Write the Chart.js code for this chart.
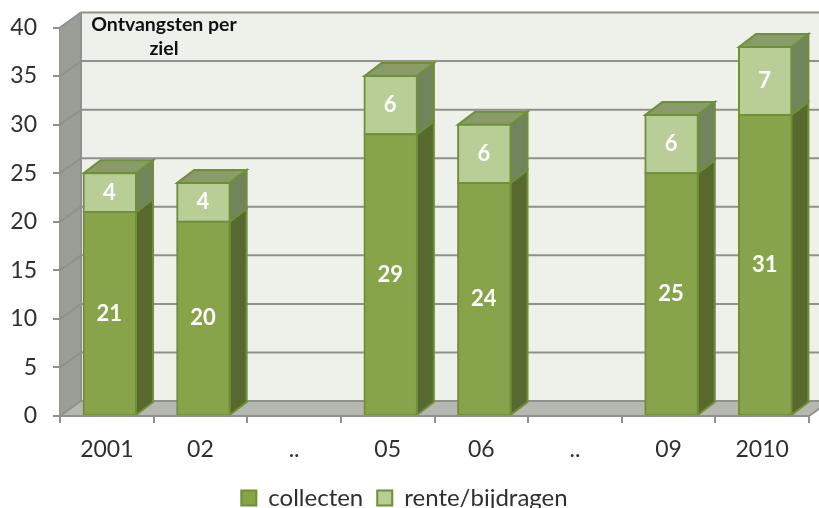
<!DOCTYPE html>
<html>
<head>
<meta charset="utf-8">
<title>Ontvangsten per ziel</title>
<style>
  html, body { margin: 0; padding: 0; background: #fff; }
  canvas { display: block; }
</style>
<script src="https://cdn.jsdelivr.net/npm/chart.js@4"></script>
</head>
<body>
<canvas id="chart" width="819" height="508"></canvas>
<script>
const categories = ['2001', '02', '..', '05', '06', '..', '09', '2010'];
const collecten = [21, 20, null, 29, 24, null, 25, 31];
const renteBijdragen = [4, 4, null, 6, 6, null, 6, 7];
const yTicks = [0, 5, 10, 15, 20, 25, 30, 35, 40];
const titleLines = ['Ontvangsten per', 'ziel'];

const fontName = 'Lato, "Open Sans", sans-serif';
const axisColor = '#8f918c';
const textColor = '#2f2f2f';

// Fake 3D: how far the back wall and the bar sides are pushed back
const wallDepth = { x: 21, y: -15 };
const barDepth = { x: 17, y: -13 };
const barShift = 3;
const legendDrop = 12;
const sideColors = ['#58692f', '#72845b'];
const topColor = '#899b69';

function polygon(ctx, points, fill) {
  ctx.beginPath();
  points.forEach((p, i) => {
    if (i === 0) ctx.moveTo(p[0], p[1]);
    else ctx.lineTo(p[0], p[1]);
  });
  ctx.closePath();
  ctx.fillStyle = fill;
  ctx.fill();
}

function drawWalls(chart) {
  const ctx = chart.ctx;
  const { left, right, top, bottom } = chart.chartArea;
  const backX = left + wallDepth.x;
  const far = chart.width + 30;

  polygon(ctx, [[backX, top + wallDepth.y], [far, top + wallDepth.y], [far, bottom + wallDepth.y], [backX, bottom + wallDepth.y]], '#eef0ea');
  polygon(ctx, [[left, top], [backX, top + wallDepth.y], [backX, bottom + wallDepth.y], [left, bottom]], '#9b9e96');
  polygon(ctx, [[left, bottom], [backX, bottom + wallDepth.y], [far, bottom + wallDepth.y], [right + wallDepth.x, bottom + wallDepth.y], [right, bottom]], '#b5b8b0');

  ctx.strokeStyle = axisColor;
  ctx.lineWidth = 2;
  yTicks.forEach(v => {
    const y = chart.scales.y.getPixelForValue(v);
    ctx.beginPath();
    ctx.moveTo(left, y);
    ctx.lineTo(backX, y + wallDepth.y);
    ctx.lineTo(far, y + wallDepth.y);
    ctx.stroke();
  });
  ctx.beginPath();
  ctx.moveTo(backX, top + wallDepth.y);
  ctx.lineTo(backX, bottom + wallDepth.y);
  ctx.moveTo(right, bottom);
  ctx.lineTo(right + wallDepth.x, bottom + wallDepth.y);
  ctx.stroke();
}

function drawBarSides(chart) {
  const ctx = chart.ctx;
  const dx = barDepth.x, dy = barDepth.y;
  chart.data.datasets.forEach((ds, d) => {
    chart.getDatasetMeta(d).data.forEach((bar, i) => {
      if (ds.data[i] === null) return;
      const r = bar.x + bar.width / 2 + barShift;
      const l = bar.x - bar.width / 2 + barShift;
      const side = [[r, bar.y], [r + dx, bar.y + dy], [r + dx, bar.base + dy], [r, bar.base]];
      polygon(ctx, side, sideColors[d]);
      ctx.strokeStyle = ds.borderColor;
      ctx.lineWidth = 2;
      ctx.stroke();
      if (d === chart.data.datasets.length - 1) {
        polygon(ctx, [[l, bar.y], [l + dx, bar.y + dy], [r + dx, bar.y + dy], [r, bar.y]], topColor);
        ctx.stroke();
      }
    });
  });
}

function drawValues(chart) {
  const ctx = chart.ctx;
  ctx.font = 'bold 22px ' + fontName;
  ctx.fillStyle = '#ffffff';
  ctx.textAlign = 'center';
  ctx.textBaseline = 'middle';
  chart.data.datasets.forEach((ds, d) => {
    chart.getDatasetMeta(d).data.forEach((bar, i) => {
      if (ds.data[i] === null) return;
      ctx.fillText(ds.data[i], bar.x + barShift - 0.5, (bar.y + bar.base) / 2);
    });
  });
}

function drawTitle(chart) {
  const ctx = chart.ctx;
  ctx.font = 'bold 19.5px ' + fontName;
  ctx.fillStyle = '#111111';
  ctx.textAlign = 'center';
  ctx.textBaseline = 'middle';
  titleLines.forEach((line, i) => ctx.fillText(line, 164, 25 + i * 24));
}

const fake3d = {
  id: 'fake3d',
  afterLayout(chart) {
    chart.legend.top += legendDrop;
    chart.legend.bottom += legendDrop;
  },
  beforeDatasetsDraw(chart) {
    drawWalls(chart);
    drawBarSides(chart);
    chart.ctx.save();
    chart.ctx.translate(barShift, 0);
  },
  afterDatasetsDraw(chart) {
    chart.ctx.restore();
    drawValues(chart);
    drawTitle(chart);
  }
};

new Chart(document.getElementById('chart'), {
  type: 'bar',
  data: {
    labels: categories,
    datasets: [{
      label: 'collecten',
      data: collecten,
      backgroundColor: '#87a44b',
      borderColor: '#6f8f38',
      borderWidth: 2,
      borderSkipped: false,
      inflateAmount: 1
    }, {
      label: 'rente/bijdragen',
      data: renteBijdragen,
      backgroundColor: '#b9cd96',
      borderColor: '#6f8f38',
      borderWidth: 2,
      borderSkipped: false,
      inflateAmount: 1
    }]
  },
  options: {
    responsive: false,
    animation: false,
    layout: { padding: { top: 27.5, right: 10, left: 0, bottom: 0 } },
    barPercentage: 1,
    categoryPercentage: 0.56,
    plugins: {
      title: { display: false },
      tooltip: { enabled: false },
      legend: {
        position: 'bottom',
        labels: {
          boxWidth: 15,
          boxHeight: 15,
          padding: 14,
          color: textColor,
          font: { family: fontName, size: 24 }
        }
      }
    },
    scales: {
      x: {
        stacked: true,
        afterFit(scale) { scale.height = 92 - scale.chart.legend.height; },
        grid: { drawOnChartArea: false, color: axisColor, lineWidth: 2, tickLength: 7 },
        border: { color: axisColor, width: 2, z: 1 },
        ticks: {
          autoSkip: false,
          maxRotation: 0,
          padding: 13,
          color: textColor,
          font: { family: fontName, size: 23 }
        }
      },
      y: {
        stacked: true,
        min: 0,
        max: 40,
        afterFit(scale) {
          scale.width = 60;
          scale.paddingTop = 0;
          scale.paddingBottom = 0;
        },
        afterBuildTicks(scale) { scale.ticks = yTicks.map(value => ({ value })); },
        grid: { drawOnChartArea: false, color: axisColor, lineWidth: 2, tickLength: 7 },
        border: { color: axisColor, width: 2 },
        ticks: {
          padding: 16,
          color: textColor,
          font: { family: fontName, size: 23 }
        }
      }
    }
  },
  plugins: [fake3d]
});
</script>
</body>
</html>
